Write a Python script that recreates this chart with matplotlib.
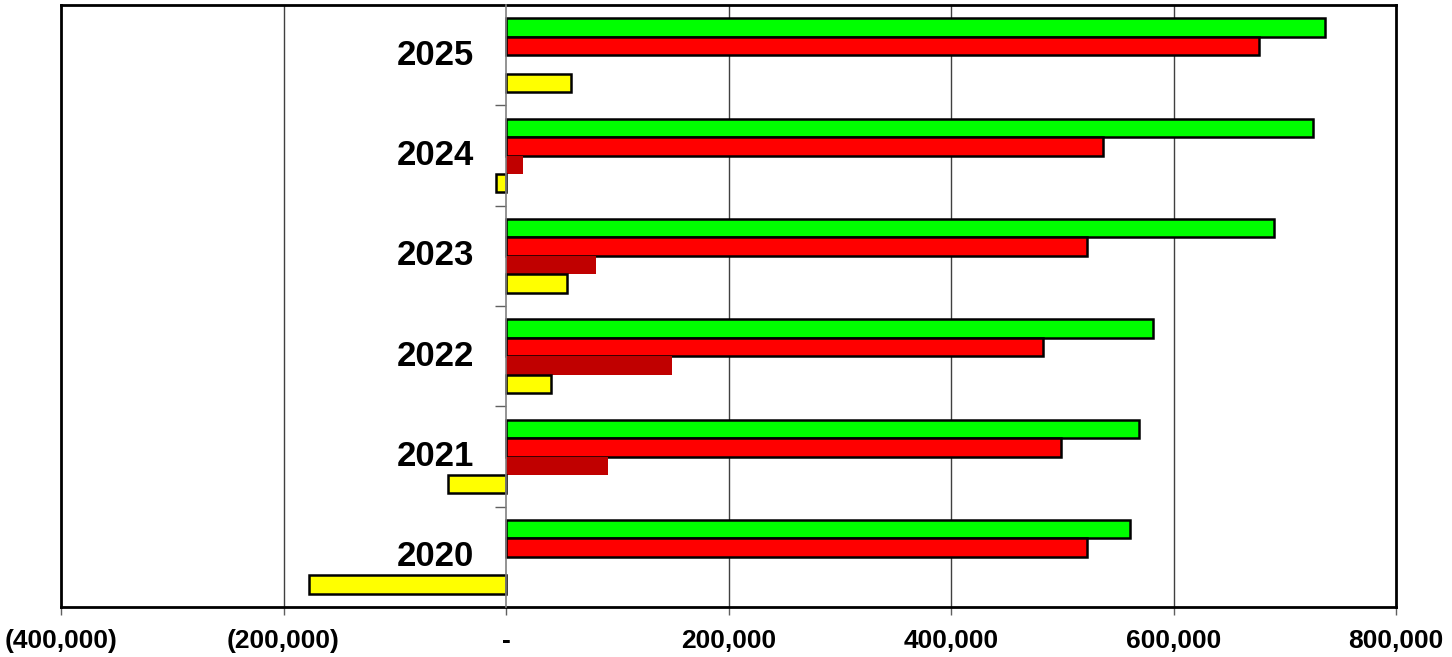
import numpy as np
import matplotlib
matplotlib.use("Agg")
import matplotlib.pyplot as plt

plt.rcParams["font.family"] = ["Liberation Sans", "DejaVu Sans"]

years = ["2020", "2021", "2022", "2023", "2024", "2025"]
green_vals = [561000, 569000, 581500, 690000, 725000, 736500]
red_vals = [522000, 499000, 483000, 522000, 537000, 677000]
darkred_vals = [0, 92000, 149000, 81000, 15500, 0]
yellow_vals = [-177000, -52000, 40500, 54500, -9000, 58500]

x_ticks = [-400000, -200000, 0, 200000, 400000, 600000, 800000]
x_labels = ["(400,000)", "(200,000)", "-", "200,000", "400,000", "600,000", "800,000"]

fig = plt.figure(figsize=(14.52, 6.57), dpi=100)
ax = fig.add_axes([61 / 1452, 50 / 657, 1335 / 1452, 602 / 657])

y = np.arange(len(years))
h = 0.183
series = [
    (green_vals, "#00FF00", 1.5 * h, "black"),
    (red_vals, "#FF0000", 0.5 * h, "black"),
    (darkred_vals, "#C00000", -0.5 * h, "none"),
    (yellow_vals, "#FFFF00", -1.5 * h, "black"),
]
for vals, color, off, edge in series:
    ax.barh(y + off, vals, height=h, color=color, edgecolor=edge,
            linewidth=1.8 if edge != "none" else 0, zorder=3)

ax.set_xlim(-400000, 800000)
ax.set_ylim(-0.5, len(years) - 0.5)

# vertical gridlines
for t in x_ticks[1:-1]:
    if t != 0:
        ax.axvline(t, color="#404040", linewidth=1, zorder=1)

ax.set_xticks(x_ticks)
ax.set_xticklabels(x_labels, fontsize=19, fontweight="bold")
ax.tick_params(axis="x", direction="out", length=6, width=1, color="#606060", pad=10)

# category axis crossing at zero
ax.spines["left"].set_position(("data", 0))
ax.spines["left"].set_color("#808080")
ax.spines["left"].set_linewidth(1.2)
ax.spines["left"].set_zorder(4)
ax.set_yticks(np.arange(len(years) - 1) + 0.5)
ax.set_yticklabels([])
ax.tick_params(axis="y", direction="out", length=8, width=1, color="#606060")

for s in ["top", "right", "bottom"]:
    ax.spines[s].set_linewidth(2)
    ax.spines[s].set_color("black")
ax.plot([0, 0], [0, 1], transform=ax.transAxes, color="black", linewidth=2,
        clip_on=False, zorder=5)

for i, yr in enumerate(years):
    ax.annotate(yr, xy=(0, i), xytext=(-32, 0), textcoords="offset pixels",
                ha="right", va="center", fontsize=25, fontweight="bold", zorder=6)

fig.savefig("out.png", dpi=100)
